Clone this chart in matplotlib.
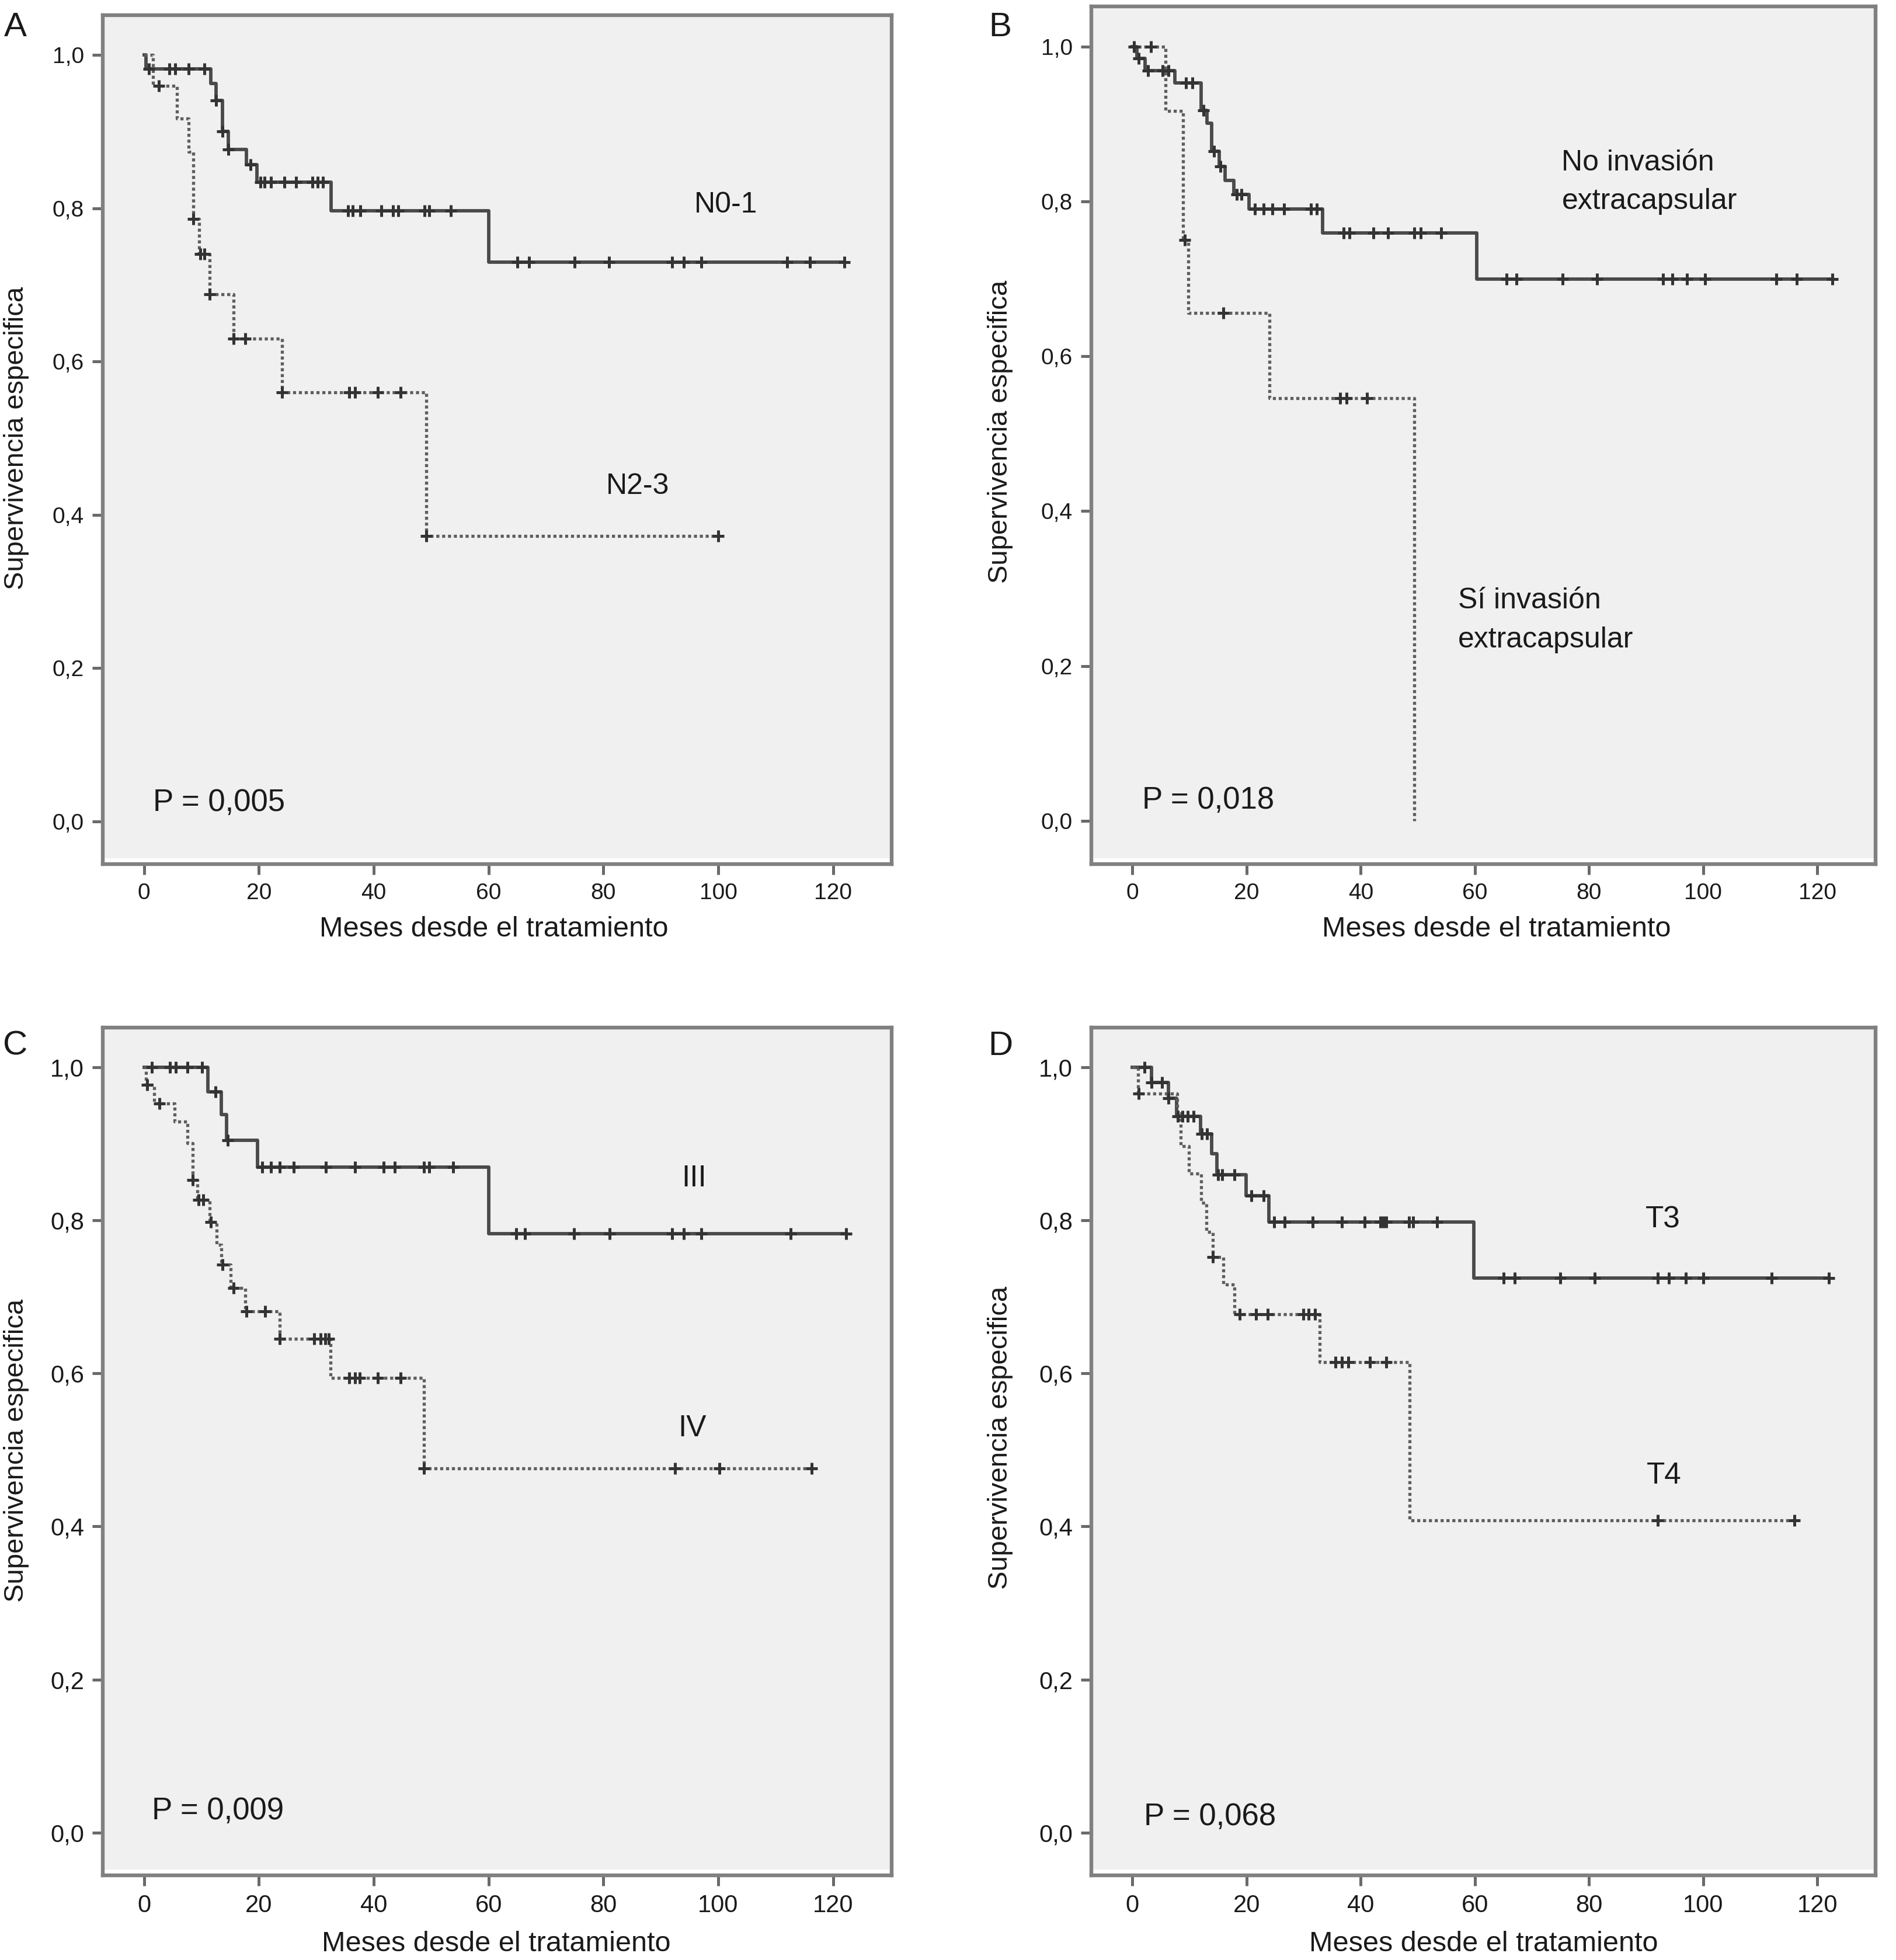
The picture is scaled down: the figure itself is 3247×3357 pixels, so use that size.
import numpy as np
import matplotlib
matplotlib.use("Agg")
from matplotlib import pyplot as plt
from matplotlib.patches import Rectangle

plt.rcParams['font.family'] = ['Liberation Sans', 'DejaVu Sans']

# ---- data (months, cumulative survival) ----
month_ticks = [0, 20, 40, 60, 80, 100, 120]
surv_ticks = [0.0, 0.2, 0.4, 0.6, 0.8, 1.0]
surv_labels = ["0,0", "0,2", "0,4", "0,6", "0,8", "1,0"]

# A: N0-1 (solid) / N2-3 (dotted)
a1_t = [0, 0.3, 11.6, 12.5, 13.6, 14.7, 17.8, 19.6, 32.6, 60.0]
a1_s = [1.0, 0.982, 0.963, 0.941, 0.900, 0.877, 0.857, 0.834, 0.797, 0.730]
a1_cens = [0.8, 4.4, 5.4, 7.7, 10.5, 12.5, 13.6, 14.7, 18.5, 20.3, 21.0, 22.1,
           24.4, 26.5, 29.3, 30.2, 31.1, 35.5, 36.3, 37.6, 41.3, 43.3, 44.3,
           48.8, 49.7, 53.4, 65, 67, 75, 81, 92, 94, 97, 112, 116, 122]
a1_end = 122
a2_t = [0, 1.5, 5.7, 7.7, 8.6, 9.6, 11.4, 15.6, 24.0, 49.1]
a2_s = [1.0, 0.960, 0.917, 0.874, 0.786, 0.740, 0.688, 0.630, 0.560, 0.372]
a2_cens = [2.6, 8.6, 9.8, 10.5, 11.4, 15.6, 17.6, 24.0, 35.7, 36.7, 40.7,
           44.7, 49.1, 100]
a2_end = 100

# B: no invasion extracapsular (solid) / si invasion (dotted)
b1_t = [0, 0.8, 2.2, 7.4, 12.0, 13.1, 13.9, 15.2, 16.2, 17.8, 20.4, 33.3, 60.3]
b1_s = [1.0, 0.985, 0.969, 0.953, 0.918, 0.901, 0.865, 0.845, 0.827, 0.809,
        0.790, 0.759, 0.700]
b1_cens = [0.3, 1.1, 2.7, 5.3, 6.3, 9.4, 10.5, 12.4, 14.3, 15.4, 18.3, 19.1,
           21.4, 23.0, 24.5, 26.6, 31.3, 32.3, 37.0, 38.0, 42.2, 44.8, 49.4,
           50.5, 54.1, 65.5, 67.3, 75.4, 81.4, 93.0, 94.6, 97.2, 100.3, 112.8,
           116.4, 122.6]
b1_end = 122.6
b2_t = [0, 5.8, 8.9, 9.8, 24.0, 49.4]
b2_s = [1.0, 0.917, 0.750, 0.656, 0.546, 0.0]
b2_cens = [3.2, 9.2, 15.9, 36.4, 37.5, 41.1]
b2_end = 49.4

# C: stage III (solid) / IV (dotted)
c1_t = [0, 11.1, 13.4, 14.4, 19.8, 60.0]
c1_s = [1.0, 0.968, 0.938, 0.905, 0.870, 0.783]
c1_cens = [1.3, 4.5, 5.5, 7.5, 10.1, 12.4, 14.6, 20.6, 22.1, 23.6, 26.1, 31.7,
           36.7, 41.7, 43.7, 48.7, 49.7, 53.8, 64.8, 66.3, 74.9, 81.1, 92.0,
           94.0, 97.0, 112.6, 122.3]
c1_end = 122.3
c2_t = [0, 0.3, 1.7, 5.3, 7.5, 8.5, 9.3, 11.4, 12.6, 13.4, 15.1, 17.6, 23.6,
        32.5, 48.7]
c2_s = [1.0, 0.977, 0.953, 0.929, 0.901, 0.853, 0.827, 0.798, 0.768, 0.742,
        0.712, 0.681, 0.645, 0.594, 0.476]
c2_cens = [0.5, 2.7, 8.5, 9.5, 10.3, 11.6, 13.6, 15.6, 17.8, 21.1, 23.6, 29.6,
           30.7, 31.5, 32.2, 35.7, 36.7, 37.5, 40.7, 44.7, 48.7, 92.5, 100.2,
           116.3]
c2_end = 116.3

# D: T3 (solid) / T4 (dotted)
d1_t = [0, 3.3, 6.3, 7.7, 11.9, 13.9, 14.8, 19.9, 23.9, 59.8]
d1_s = [1.0, 0.980, 0.960, 0.936, 0.913, 0.887, 0.860, 0.832, 0.798, 0.725]
d1_cens = [2.1, 3.3, 5.2, 6.3, 7.9, 8.8, 9.7, 10.7, 12.1, 13.1, 15.0, 15.7,
           17.9, 20.8, 23.0, 24.8, 26.7, 31.6, 36.7, 40.7, 43.4, 44.0, 44.5,
           48.5, 49.2, 53.4, 65, 67, 75, 81, 92, 94, 97, 100, 112, 122]
d1_end = 122
d2_t = [0, 1.0, 7.8, 8.5, 9.9, 12.0, 13.0, 14.1, 15.9, 17.9, 32.8, 48.6]
d2_s = [1.0, 0.966, 0.940, 0.897, 0.861, 0.823, 0.785, 0.752, 0.716, 0.677,
        0.615, 0.408]
d2_cens = [1.06, 14.1, 18.8, 21.7, 23.7, 29.9, 30.9, 32.0, 35.6, 36.7, 37.8,
           41.6, 44.5, 92, 116]
d2_end = 116.5


def km(ax, t, s, end, cens, solid):
    """ Draw one Kaplan-Meier step curve with its censor crosses """
    x = list(t) + [end]
    y = list(s) + [s[-1]]
    if solid:
        ax.plot(x, y, drawstyle="steps-post", color="#4a4a4a", lw=2.1,
                zorder=3)
    else:
        ax.plot(x, y, drawstyle="steps-post", color="#5e5e5e", lw=1.9,
                ls=(0, (1.0, 0.9)), zorder=3)
    # survival at each censoring time
    idx = np.searchsorted(t, cens, side="right") - 1
    cy = np.asarray(s)[idx]
    ax.plot(cens, cy, ls="none", marker="+", ms=7, mew=1.8,
            color="#333333", zorder=4)


def frame(ax, tick_size):
    ax.set_facecolor("#f0f0f0")
    ax.set_xlim(-7.2, 130.2)
    ax.set_ylim(-0.056, 1.052)
    ax.set_xticks(month_ticks)
    ax.set_xticklabels([str(m) for m in month_ticks], fontsize=tick_size)
    ax.set_yticks(surv_ticks)
    ax.set_yticklabels(surv_labels, fontsize=tick_size)
    for sp in ax.spines.values():
        sp.set_color("#808080")
        sp.set_linewidth(2.3)
    ax.tick_params(direction="out", length=6.5, width=1.8, color="#6a6a6a",
                   labelcolor="#1a1a1a", pad=5)
    # light strip above the bottom axis line
    ax.add_patch(Rectangle((0, 0), 1, 0.007, transform=ax.transAxes,
                           facecolor="white", edgecolor="none", zorder=1))


W, H = 3248, 3357
fig = plt.figure(figsize=(W / 200, H / 200), dpi=200)

def box(left, right, top, bottom):
    return [left / W, 1 - bottom / H, (right - left) / W, (bottom - top) / H]

axA = fig.add_axes(box(176, 1527, 26, 1480))
axB = fig.add_axes(box(1869, 3212, 11, 1480))
axC = fig.add_axes(box(176, 1527, 1760, 3212))
axD = fig.add_axes(box(1869, 3212, 1760, 3212))

for ax in (axA, axB):
    frame(ax, 14)
for ax in (axC, axD):
    frame(ax, 15)

km(axA, a1_t, a1_s, a1_end, a1_cens, True)
km(axA, a2_t, a2_s, a2_end, a2_cens, False)
km(axB, b1_t, b1_s, b1_end, b1_cens, True)
km(axB, b2_t, b2_s, b2_end, b2_cens, False)
km(axC, c1_t, c1_s, c1_end, c1_cens, True)
km(axC, c2_t, c2_s, c2_end, c2_cens, False)
km(axD, d1_t, d1_s, d1_end, d1_cens, True)
km(axD, d2_t, d2_s, d2_end, d2_cens, False)

txt = dict(color="#1a1a1a", va="center")
axA.text(101.3, 0.804, "N0-1", ha="center", fontsize=18, **txt)
axA.text(86.0, 0.437, "N2-3", ha="center", fontsize=18, **txt)
axA.text(1.5, 0.024, "P = 0,005", ha="left", fontsize=19, **txt)

axB.text(75.2, 0.85, "No invasión", ha="left", fontsize=18, **txt)
axB.text(75.2, 0.80, "extracapsular", ha="left", fontsize=18, **txt)
axB.text(57.0, 0.284, "Sí invasión", ha="left", fontsize=18, **txt)
axB.text(57.0, 0.234, "extracapsular", ha="left", fontsize=18, **txt)
axB.text(1.7, 0.026, "P = 0,018", ha="left", fontsize=19, **txt)

axC.text(95.8, 0.855, "III", ha="center", fontsize=18.5, **txt)
axC.text(95.5, 0.528, "IV", ha="center", fontsize=18.5, **txt)
axC.text(1.3, 0.028, "P = 0,009", ha="left", fontsize=19, **txt)

axD.text(92.9, 0.801, "T3", ha="center", fontsize=18.5, **txt)
axD.text(93.1, 0.466, "T4", ha="center", fontsize=18.5, **txt)
axD.text(2.0, 0.020, "P = 0,068", ha="left", fontsize=19, **txt)

# panel letters, axis titles
letters = ["A", "B", "C", "D"]
letter_xy = [(26, 47), (1713, 47), (26, 1792), (1713, 1792)]
ylab_xy = [(28, 750), (1713, 739), (28, 2484), (1713, 2462)]
xlab_xy = [(846, 1591), (2563, 1591), (850, 3329), (2541, 3329)]
for k in range(4):
    lx, ly = letter_xy[k]
    fig.text(lx / W, 1 - ly / H, letters[k], fontsize=21, ha="center",
             va="center", color="#1a1a1a")
    yx, yy = ylab_xy[k]
    fig.text(yx / W, 1 - yy / H, "Supervivencia especifica", fontsize=17,
             rotation=90, ha="center", va="center", color="#1a1a1a")
    xx, xy = xlab_xy[k]
    fig.text(xx / W, 1 - xy / H, "Meses desde el tratamiento", fontsize=17.5,
             ha="center", va="center", color="#1a1a1a")

fig.savefig("out.png", dpi=200, facecolor="white")
